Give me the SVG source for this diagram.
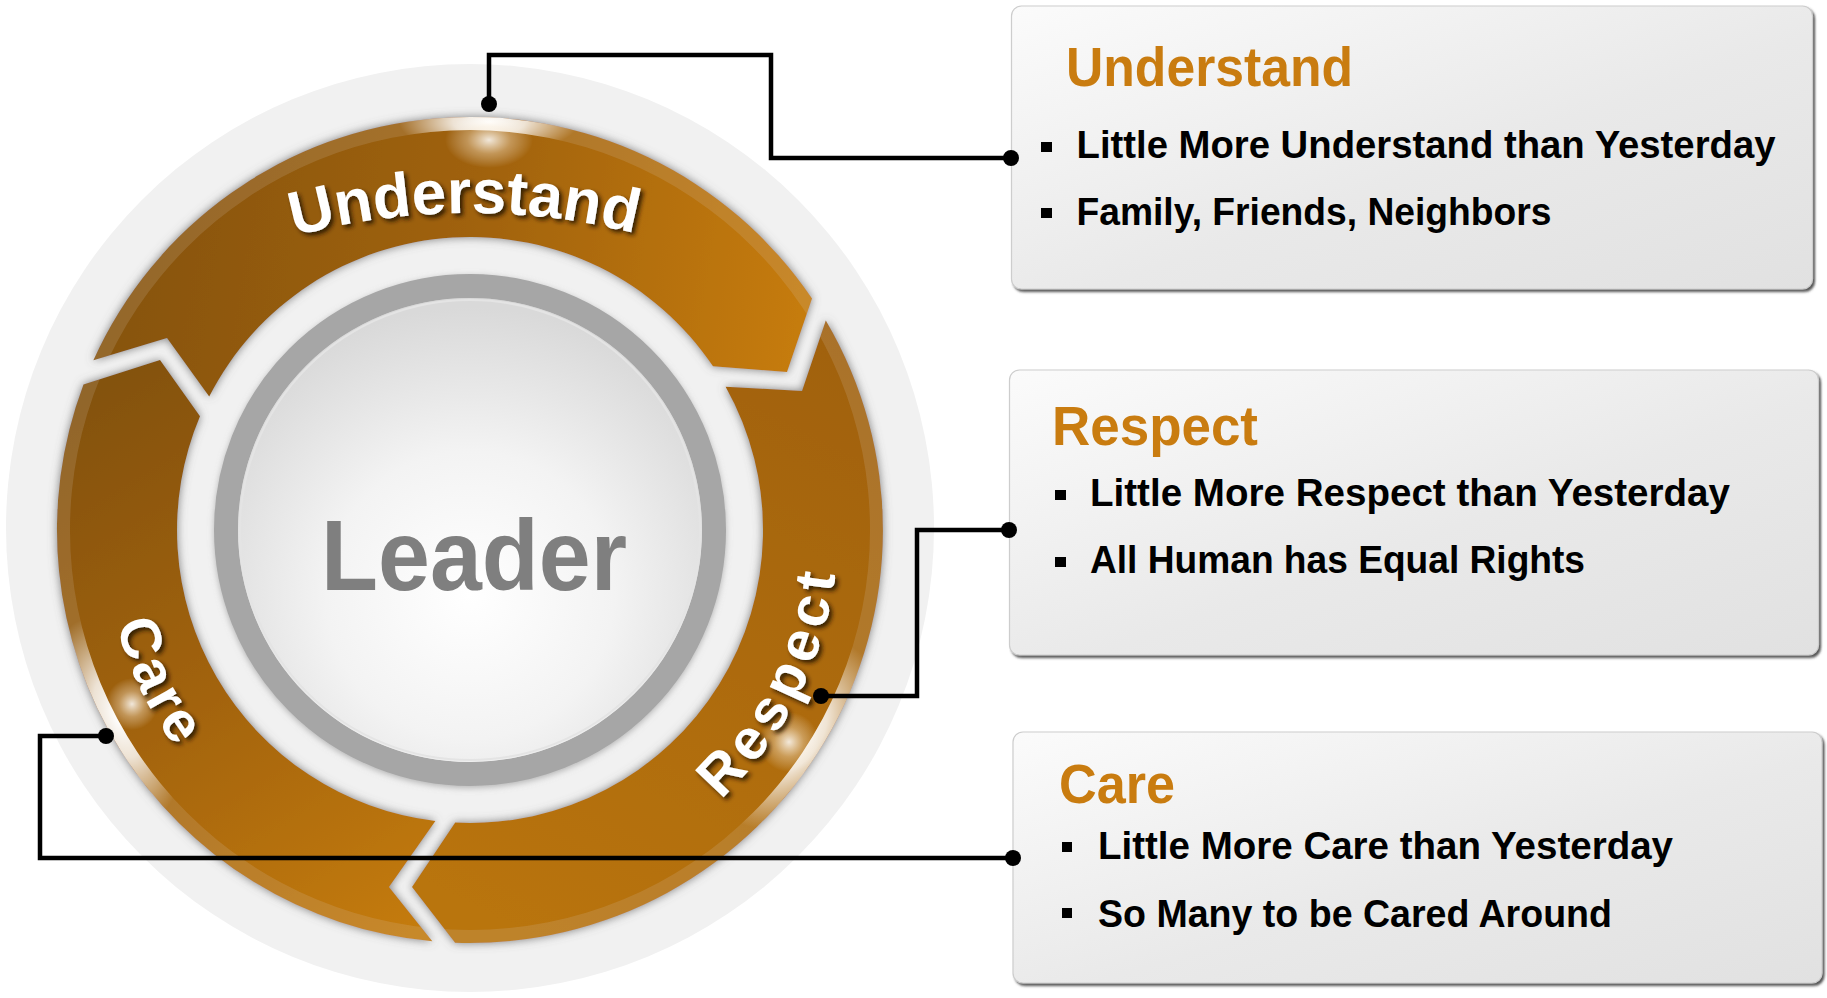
<svg xmlns="http://www.w3.org/2000/svg" width="1827" height="998" viewBox="0 0 1827 998">
<defs>
<style>
.seg-label { font-family: "Liberation Sans", Arial, sans-serif; font-weight: bold; fill: #ffffff; }
.title { font-family: "Liberation Sans", Arial, sans-serif; font-weight: bold; font-size: 55px; fill: #c97c10; }
.item { font-family: "Liberation Sans", Arial, sans-serif; font-weight: bold; font-size: 39px; fill: #000000; }
.bullet { fill: #000000; }
.box { fill: url(#boxGrad); stroke: #cdcdcd; stroke-width: 1.2; filter: url(#boxShadow); }
.wire { fill: none; stroke: #000000; stroke-width: 4.5; stroke-linejoin: miter; }
.dot { fill: #000000; }
</style>
<linearGradient id="boxGrad" x1="0" y1="0" x2="1" y2="1">
<stop offset="0" stop-color="#fbfbfb"/>
<stop offset="0.55" stop-color="#e9e9e9"/>
<stop offset="1" stop-color="#e1e1e1"/>
</linearGradient>
<linearGradient id="gU" gradientUnits="userSpaceOnUse" x1="120" y1="260" x2="790" y2="370">
<stop offset="0" stop-color="#87540b"/>
<stop offset="0.5" stop-color="#a0620c"/>
<stop offset="1" stop-color="#c57b10"/>
</linearGradient>
<linearGradient id="gR" gradientUnits="userSpaceOnUse" x1="830" y1="320" x2="520" y2="930">
<stop offset="0" stop-color="#a0610c"/>
<stop offset="1" stop-color="#b97410"/>
</linearGradient>
<linearGradient id="gC" gradientUnits="userSpaceOnUse" x1="100" y1="390" x2="430" y2="920">
<stop offset="0" stop-color="#84520b"/>
<stop offset="0.5" stop-color="#a2630c"/>
<stop offset="1" stop-color="#c47b10"/>
</linearGradient>
<radialGradient id="sphere" cx="50%" cy="64%" r="62%">
<stop offset="0" stop-color="#ffffff"/>
<stop offset="0.5" stop-color="#f3f3f3"/>
<stop offset="1" stop-color="#d9d9d9"/>
</radialGradient>
<radialGradient id="glow">
<stop offset="0" stop-color="#ffffff" stop-opacity="1"/>
<stop offset="0.4" stop-color="#ffffff" stop-opacity="0.8"/>
<stop offset="1" stop-color="#ffffff" stop-opacity="0"/>
</radialGradient>
<radialGradient id="softGlow">
<stop offset="0" stop-color="#ffffff" stop-opacity="0.85"/>
<stop offset="0.5" stop-color="#fff3e0" stop-opacity="0.35"/>
<stop offset="1" stop-color="#ffffff" stop-opacity="0"/>
</radialGradient>
<filter id="ringShadow" x="-10%" y="-10%" width="120%" height="120%">
<feDropShadow dx="0" dy="0" stdDeviation="5" flood-color="#6a6a6a" flood-opacity="0.85"/>
</filter>
<filter id="grayShadow" x="-10%" y="-10%" width="120%" height="120%">
<feDropShadow dx="0" dy="2" stdDeviation="3" flood-color="#8a8a8a" flood-opacity="0.6"/>
</filter>
<filter id="txtShadow" x="-20%" y="-20%" width="140%" height="140%">
<feDropShadow dx="3" dy="3" stdDeviation="2" flood-color="#2a1500" flood-opacity="0.9"/>
</filter>
<filter id="boxShadow" x="-2%" y="-3%" width="104%" height="108%">
<feDropShadow dx="2" dy="2.5" stdDeviation="1" flood-color="#3a3a3a" flood-opacity="0.85"/>
</filter>
<path id="pU" d="M 93.4,360.3 A 413 413 0 0 1 812,298.4 L 787,372 L 713,366.3 A 293 293 0 0 0 209.2,396.5 L 167,338 Z"/>
<path id="pR" d="M 825.8,320.4 A 413 413 0 0 1 455.1,942.7 L 412,887 L 455.2,822.6 A 293 293 0 0 0 725.6,386.7 L 802,391 Z"/>
<path id="pC" d="M 432.3,941.3 A 413 413 0 0 1 83.5,384.4 L 160,360 L 200,416.2 A 293 293 0 0 0 435.4,820.9 L 389,887 Z"/>
<clipPath id="segClip">
<use href="#pU"/>
<use href="#pR"/>
<use href="#pC"/>
</clipPath>
<clipPath id="bandClip">
<path clip-rule="evenodd" d="M 55,530 A 415 415 0 1 0 885,530 A 415 415 0 1 0 55,530 Z M 70,530 A 400 400 0 1 0 870,530 A 400 400 0 1 0 70,530 Z"/>
</clipPath>
<path id="arcU" d="M 200,269.6 A 672 672 0 0 1 740,269.6"/>
<path id="arcR" d="M 654,848.7 A 368 368 0 0 0 832.4,466.1"/>
<path id="arcC" d="M 109.6,466.4 A 366 366 0 0 0 287,847"/>
</defs>

<rect x="0" y="0" width="1827" height="998" fill="#ffffff"/>

<g id="cycle">
<circle cx="470" cy="528" r="464" fill="#f1f1f1"/>
<g id="segments" filter="url(#ringShadow)">
<use href="#pU" fill="url(#gU)"/>
<use href="#pR" fill="url(#gR)"/>
<use href="#pC" fill="url(#gC)"/>
</g>
<g clip-path="url(#segClip)">
<g clip-path="url(#bandClip)">
<rect x="40" y="100" width="860" height="860" fill="#d8d0c6" opacity="0.16"/>
<ellipse cx="489" cy="122" rx="90" ry="32" fill="url(#glow)"/>
<ellipse cx="796" cy="735" rx="60" ry="105" fill="url(#glow)" transform="rotate(35 796 735)"/>
<ellipse cx="118" cy="718" rx="50" ry="105" fill="url(#glow)" transform="rotate(-22 118 718)"/>
</g>
<ellipse cx="489" cy="140" rx="44" ry="28" fill="url(#softGlow)"/>
<circle cx="789" cy="742" r="30" fill="url(#softGlow)"/>
<circle cx="132" cy="704" r="26" fill="url(#softGlow)"/>
</g>
</g>

<g id="node-leader">
<circle cx="470" cy="530" r="244" fill="none" stroke="#a6a6a6" stroke-width="24" filter="url(#grayShadow)"/>
<circle cx="470" cy="530" r="232" fill="url(#sphere)"/>
<circle cx="470" cy="530" r="230" fill="none" stroke="#e4e4e4" stroke-width="2"/>
<text x="321" y="590" font-family="Liberation Sans, Arial, sans-serif" font-weight="bold" font-size="100" fill="#7f7f7f" textLength="306" lengthAdjust="spacingAndGlyphs">Leader</text>
</g>

<g id="node-understand-ring">
<text class="seg-label" font-size="62" filter="url(#txtShadow)"><textPath href="#arcU" startOffset="49%" text-anchor="middle">Understand</textPath></text>
</g>
<g id="node-respect-ring">
<text class="seg-label" font-size="57" letter-spacing="6" filter="url(#txtShadow)"><textPath href="#arcR" startOffset="47.8%" text-anchor="middle">Respect</textPath></text>
</g>
<g id="node-care-ring">
<text class="seg-label" font-size="57" letter-spacing="3.5" filter="url(#txtShadow)"><textPath href="#arcC" startOffset="51.3%" text-anchor="middle">Care</textPath></text>
</g>

<g id="node-understand-box">
<rect class="box" x="1011.5" y="6" width="801" height="283" rx="10"/>
<text class="title" x="1066" y="86" textLength="287" lengthAdjust="spacingAndGlyphs">Understand</text>
<rect class="bullet" x="1041" y="142" width="11" height="10"/>
<text class="item" x="1076.5" y="158" textLength="699" lengthAdjust="spacingAndGlyphs">Little More Understand than Yesterday</text>
<rect class="bullet" x="1041" y="208" width="11" height="10"/>
<text class="item" x="1076.5" y="225" textLength="475" lengthAdjust="spacingAndGlyphs">Family, Friends, Neighbors</text>
</g>

<g id="node-respect-box">
<rect class="box" x="1009.5" y="370" width="809" height="285" rx="10"/>
<text class="title" x="1052" y="445" textLength="206" lengthAdjust="spacingAndGlyphs">Respect</text>
<rect class="bullet" x="1055" y="490" width="11" height="10"/>
<text class="item" x="1090" y="506" textLength="640" lengthAdjust="spacingAndGlyphs">Little More Respect than Yesterday</text>
<rect class="bullet" x="1055" y="557" width="11" height="10"/>
<text class="item" x="1090" y="573" textLength="495" lengthAdjust="spacingAndGlyphs">All Human has Equal Rights</text>
</g>

<g id="node-care-box">
<rect class="box" x="1013" y="732" width="809" height="251" rx="10"/>
<text class="title" x="1059" y="803" textLength="116" lengthAdjust="spacingAndGlyphs">Care</text>
<rect class="bullet" x="1062" y="842" width="10" height="10"/>
<text class="item" x="1098" y="859" textLength="575" lengthAdjust="spacingAndGlyphs">Little More Care than Yesterday</text>
<rect class="bullet" x="1062" y="908" width="10" height="10"/>
<text class="item" x="1098" y="926.5" textLength="514" lengthAdjust="spacingAndGlyphs">So Many to be Cared Around</text>
</g>

<g id="connectors">
<path class="wire" d="M 489,104 V 55 H 771 V 158 H 1011"/>
<circle class="dot" cx="489" cy="104" r="8"/>
<circle class="dot" cx="1011" cy="158" r="8"/>
<path class="wire" d="M 821,696 H 917 V 530 H 1009"/>
<circle class="dot" cx="821" cy="696" r="8"/>
<circle class="dot" cx="1009" cy="530" r="8"/>
<path class="wire" d="M 106,736 H 40 V 858 H 1013"/>
<circle class="dot" cx="106" cy="736" r="8"/>
<circle class="dot" cx="1013" cy="858" r="8"/>
</g>
</svg>
